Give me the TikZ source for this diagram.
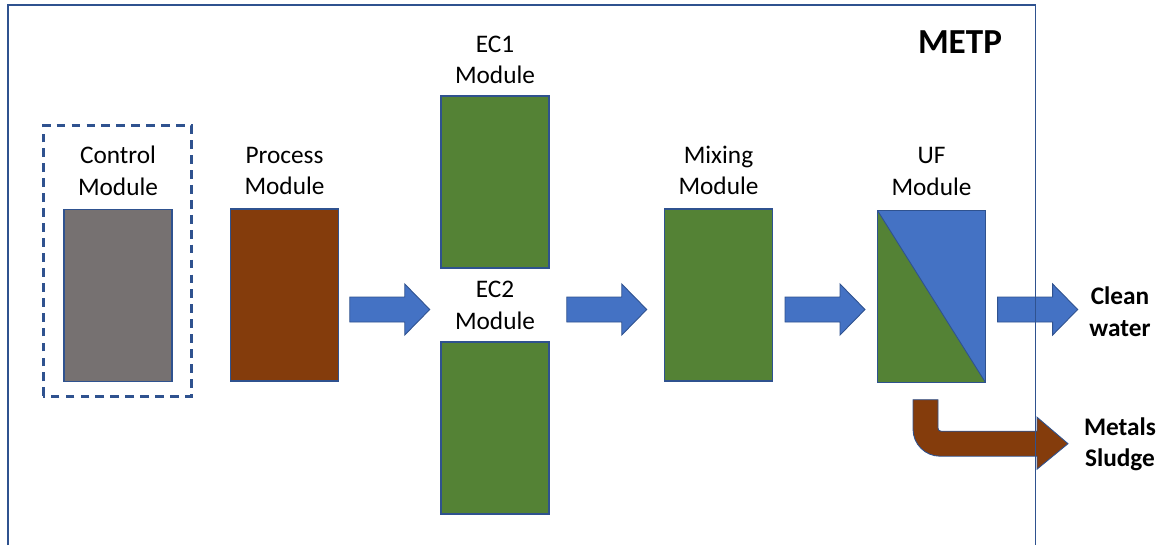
\documentclass[tikz,border=0pt]{standalone}
\usepackage{fontspec}
\setmainfont{Carlito}
\usetikzlibrary{calc, positioning}
\definecolor{edgeBlue}{HTML}{2F528F}
\definecolor{flowBlue}{HTML}{4472C4}
\definecolor{ctrlGrey}{HTML}{767171}
\definecolor{procBrown}{HTML}{843C0C}
\definecolor{ecGreen}{HTML}{548235}
\tikzset{
    module/.style={draw=edgeBlue, line width=0.8pt, minimum width=2.16cm, minimum height=3.44cm, inner sep=0pt},
    modLabel/.style={align=center, inner sep=0pt, font=\fontsize{14.4}{17.9}\selectfont},
    outLabel/.style={align=center, inner sep=0pt, font=\fontsize{14.4}{17.9}\selectfont\bfseries},
    flowArrow/.style={draw=edgeBlue, fill=flowBlue, line width=0.5pt},
    sludgeArrow/.style={draw=edgeBlue, fill=procBrown, line width=0.5pt},
    ctrlFrame/.style={draw=edgeBlue, line width=1.7pt, dash pattern=on 5pt off 3.5pt},
    plantFrame/.style={draw=edgeBlue, line width=0.9pt},
}
\newcommand{\drawFlow}[3][flowArrow]{
    \coordinate (mid) at ($(#2.east)!0.5!(#3.west)$);
    \draw[#1, shift={(mid |- row)}] (-40,2) -- (15,2) -- (15,-11) -- (40,14.5) -- (15,40) -- (15,27) -- (-40,27) -- cycle;
}

\begin{document}
\begin{tikzpicture}[x=0.02cm, y=-0.02cm]
    \useasboundingbox (0,0) rectangle (1163,545);
    \coordinate (row) at (0,295);

    \node[module, fill=ctrlGrey] (ctrl) at (118,295.5) {};
    \node[module, fill=procBrown] (proc) at (284.5,295) {};
    \node[module, fill=ecGreen] (ec1) at (495,182) {};
    \node[module, fill=ecGreen] (ec2) at (495,428) {};
    \node[module, fill=ecGreen] (mix) at (718.5,295) {};
    \node[module, fill=ecGreen, path picture={
        \fill[flowBlue] (path picture bounding box.north west) -- (path picture bounding box.north east) -- (path picture bounding box.south east) -- cycle;
        \draw[edgeBlue, line width=0.5pt] (path picture bounding box.north west) -- (path picture bounding box.south east);
    }] (uf) at (931.5,296.5) {};

    \node[modLabel, above=0.26cm of ctrl] (ctrlLbl) {Control\\Module};
    \node[modLabel, above=0.26cm of proc] (procLbl) {Process\\Module};
    \node[modLabel, above=0.22cm of ec1] (ec1Lbl) {EC1\\Module};
    \node[modLabel, above=0.23cm of ec2] (ec2Lbl) {EC2\\Module};
    \node[modLabel, above=0.26cm of mix] (mixLbl) {Mixing\\Module};
    \node[modLabel, above=0.28cm of uf] (ufLbl) {UF\\Module};
    \node[font=\fontsize{20}{24}\selectfont\bfseries] (metp) at (960,42.5) {METP};
    \node[outLabel] (clean) at (1120,311.5) {Clean\\water};
    \node[outLabel] (sludge) at (1120,444.5) {Metals\\Sludge};

    \draw[ctrlFrame] ($(ctrl.south west)+(-20,14)$) rectangle ($(ctrl.north east)+(19,-83)$);

    \drawFlow{proc}{ec2}
    \drawFlow{ec2}{mix}
    \drawFlow{mix}{uf}
    \drawFlow{uf}{clean}
    \draw[sludgeArrow, shift={(uf.south)}] (-18.5,16.5) -- (6.5,16.5) -- (6.5,45) .. controls (6.5,46.7) and (7.8,48) .. (9.5,48) -- (105.5,48) -- (105.5,34) -- (136.5,60.5) -- (105.5,86) -- (105.5,73) -- (8.5,73) .. controls (-6.4,73) and (-18.5,60.9) .. (-18.5,46) -- cycle;

    \draw[plantFrame] (8,545) |- (1035.5,5) -- (1035.5,545);

\end{tikzpicture}
\end{document}
